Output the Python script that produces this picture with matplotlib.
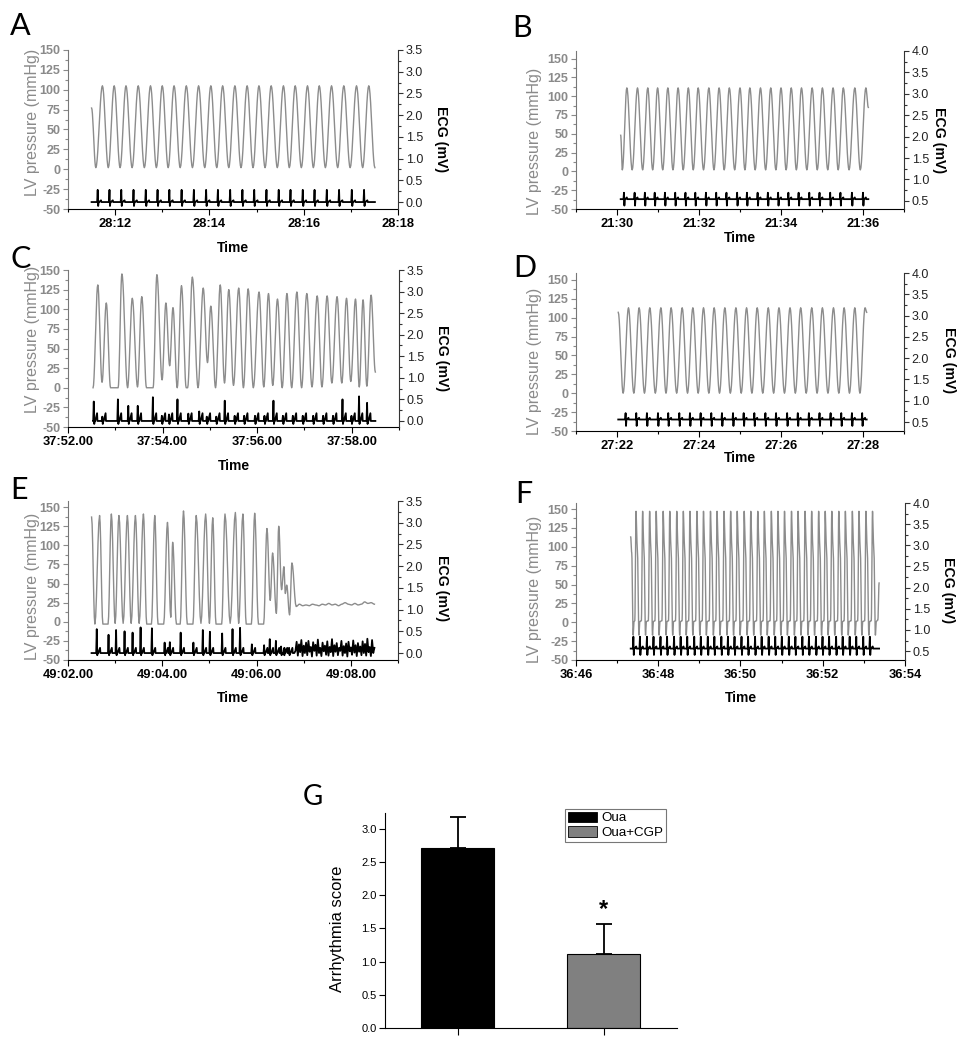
import numpy as np
import matplotlib
matplotlib.use('Agg')
import matplotlib.pyplot as plt
from matplotlib.patches import Patch
from matplotlib.ticker import AutoMinorLocator, MultipleLocator

plt.rcParams['font.family'] = ['Liberation Sans', 'DejaVu Sans']

W, H = 962, 1050
PRESS_GREY = '#8c8c8c'
AXIS_GREY = '#8a8a8a'

# ---------------- data ----------------
# A: regular rhythm (seconds within 28:xx)
A_XTICKS = [12, 14, 16, 18]
A_XLABELS = ['28:12', '28:14', '28:16', '28:18']
A_BEATS = [11.73, 11.98, 12.23, 12.49, 12.75, 13.00, 13.25, 13.51, 13.77, 14.03,
           14.28, 14.54, 14.80, 15.05, 15.31, 15.57, 15.82, 16.08, 16.33, 16.59,
           16.85, 17.12, 17.38]
A_LEAD = [(11.50, 77), (11.59, 2)]
A_TAIL = [(17.51, 2)]
A_PEAK, A_TROUGH = 105, 2

# B: regular rhythm (21:xx)
B_XTICKS = [30, 32, 34, 36]
B_XLABELS = ['21:30', '21:32', '21:34', '21:36']
B_BEATS = [30.24, 30.50, 30.75, 30.99, 31.24, 31.49, 31.74, 31.98, 32.24, 32.49,
           32.74, 33.00, 33.24, 33.50, 33.75, 34.00, 34.25, 34.50, 34.76, 35.01,
           35.27, 35.52, 35.80, 36.07]
B_LEAD = [(30.09, 48), (30.13, 2)]
B_TAIL = [(36.13, 85)]
B_PEAK, B_TROUGH = 111, 2

# C: irregular beats (37:5x)
C_XTICKS = [52, 54, 56, 58]
C_XLABELS = ['37:52.00', '37:54.00', '37:56.00', '37:58.00']
C_PRESS_T = [52.53, 52.63, 52.72, 52.81, 52.90, 53.06, 53.14, 53.26, 53.36, 53.47,
             53.56, 53.66, 53.80, 53.88, 53.99, 54.07, 54.15, 54.22, 54.31, 54.40,
             54.50, 54.53, 54.63, 54.75, 54.86, 54.95, 55.02, 55.12, 55.22, 55.31,
             55.40, 55.50, 55.61, 55.71, 55.81, 55.92, 56.04, 56.14, 56.24, 56.33,
             56.43, 56.53, 56.63, 56.73, 56.84, 56.94, 57.05, 57.16, 57.27, 57.37,
             57.48, 57.58, 57.69, 57.79, 57.89, 57.98, 58.08, 58.16, 58.24, 58.32,
             58.41, 58.50]
C_PRESS_V = [0, 131, 7, 108, 0, 0, 145, 0, 114, 1,
             116, 0, 0, 144, 10, 108, 28, 102, 0, 130,
             0, 0, 141, 0, 127, 32, 104, 0, 131, 6,
             125, 3, 127, 0, 126, 0, 122, 1, 120, 3,
             113, 0, 120, 0, 122, 0, 120, 1, 117, 1,
             117, 6, 116, 6, 114, 8, 113, 1, 112, 2,
             118, 20]
C_BEATS = [52.63, 52.81, 53.14, 53.36, 53.56, 53.88, 54.07, 54.22, 54.40, 54.63,
           54.86, 55.02, 55.22, 55.40, 55.61, 55.81, 56.04, 56.24, 56.43, 56.63,
           56.84, 57.05, 57.27, 57.48, 57.69, 57.89, 58.08, 58.24, 58.41]
C_R_AMP = [0.45, 0.10, 0.50, 0.35, 0.35, 0.55, 0.12, 0.15, 0.50, 0.17,
           0.22, 0.10, 0.10, 0.47, 0.12, 0.12, 0.12, 0.12, 0.47, 0.12,
           0.12, 0.12, 0.12, 0.12, 0.12, 0.50, 0.12, 0.57, 0.42]

# D: regular rhythm (27:xx)
D_XTICKS = [22, 24, 26, 28]
D_XLABELS = ['27:22', '27:24', '27:26', '27:28']
D_BEATS = [22.28, 22.54, 22.80, 23.07, 23.32, 23.59, 23.85, 24.11, 24.37, 24.63,
           24.90, 25.16, 25.42, 25.69, 25.95, 26.22, 26.48, 26.75, 27.01, 27.28,
           27.54, 27.80, 28.05]
D_LEAD = [(22.03, 107), (22.15, 0)]
D_TAIL = [(28.09, 107)]
D_PEAK, D_TROUGH = 113, 0

# E: arrhythmia ending in fibrillation (49:0x)
E_XTICKS = [2, 4, 6, 8]
E_XLABELS = ['49:02.00', '49:04.00', '49:06.00', '49:08.00']
E_PRESS_T = [2.50, 2.57, 2.67, 2.74, 2.85, 2.92, 3.00, 3.08, 3.17, 3.26,
             3.34, 3.43, 3.51, 3.60, 3.67, 3.77, 3.84, 3.91, 4.03, 4.11,
             4.18, 4.22, 4.30, 4.38, 4.45, 4.53, 4.65, 4.72, 4.82, 4.92,
             5.00, 5.07, 5.14, 5.26, 5.33, 5.44, 5.55, 5.62, 5.71, 5.78,
             5.89, 5.96, 6.04, 6.15, 6.22, 6.29, 6.34, 6.42, 6.47, 6.53,
             6.58, 6.61, 6.64, 6.70, 6.75, 6.84]
E_PRESS_V = [137, -3, 139, -3, -3, 141, -2, 139, -2, 139,
             -2, 139, -2, 141, -3, -3, 139, -3, -3, 130,
             6, 104, -3, -3, 145, -3, -3, 139, -2, 141,
             -2, 136, -3, -3, 141, -2, 143, -2, 141, -3,
             -3, 142, -3, -3, 122, 28, 90, 11, 125, 42,
             72, 37, 48, 9, 77, 20]
E_FLAT_V = [23, 21, 22, 21, 23, 22, 21, 23, 22, 24, 22, 23,
            21, 23, 25, 23, 22, 24, 22, 23, 26, 24, 25, 23]
E_FLAT_END = 8.50
E_BEATS = [2.67, 2.92, 3.08, 3.26, 3.43, 3.60, 3.84, 4.11, 4.22, 4.45,
           4.72, 4.92, 5.07, 5.33, 5.55, 5.71, 5.96, 6.22, 6.34, 6.47,
           6.58, 6.64, 6.75]
E_R_AMP = [0.55, 0.42, 0.53, 0.50, 0.47, 0.59, 0.57, 0.24, 0.25, 0.47,
           0.24, 0.53, 0.49, 0.45, 0.55, 0.58, 0.20, 0.18, 0.32, 0.28,
           0.15, 0.10, 0.12]
E_FIB_START = 6.80
E_FIB_V = [0.05, 0.26, -0.06, 0.20, 0.02, 0.30, -0.07, 0.17, 0.00, 0.24,
           -0.05, 0.28, 0.03, 0.14, -0.08, 0.25, 0.05, 0.19, -0.06, 0.31,
           0.00, 0.12, -0.07, 0.24, 0.04, 0.17, -0.04, 0.27, -0.06, 0.14,
           0.02, 0.32, -0.07, 0.18, 0.03, 0.23, -0.05, 0.12, 0.05, 0.28,
           -0.06, 0.16, 0.00, 0.22, -0.08, 0.26, 0.04, 0.13, -0.04, 0.29,
           0.01, 0.18, -0.07, 0.23, 0.03, 0.15, -0.05, 0.27, 0.00, 0.21,
           -0.06, 0.33, 0.02, 0.14, -0.07, 0.30, 0.00, 0.12]

# F: fast regular rhythm (36:xx)
F_XTICKS = [46, 48, 50, 52, 54]
F_XLABELS = ['36:46', '36:48', '36:50', '36:52', '36:54']
F_BEATS = [47.46, 47.62, 47.79, 47.95, 48.12, 48.28, 48.45, 48.61, 48.77, 48.94,
           49.10, 49.27, 49.43, 49.60, 49.76, 49.92, 50.09, 50.25, 50.42, 50.58,
           50.75, 50.91, 51.07, 51.24, 51.40, 51.57, 51.73, 51.90, 52.06, 52.22,
           52.39, 52.55, 52.72, 52.88, 53.05, 53.21]
F_SHAPE = [(-0.03, 2), (0.0, 147), (0.02, 108), (0.035, 92), (0.07, -17), (0.09, 1)]
F_LEAD = [(47.33, 113), (47.355, 92), (47.39, -17), (47.41, 1)]
F_TAIL = [(53.34, 3), (53.37, 52)]

# G: arrhythmia score
G_GROUPS = ['Oua', 'Oua+CGP']
G_MEANS = [2.71, 1.12]
G_ERR = [0.47, 0.45]
G_COLORS = ['#000000', '#808080']

P_TICKS = [-50, -25, 0, 25, 50, 75, 100, 125, 150]
ECG_TICKS_LO = [0.0, 0.5, 1.0, 1.5, 2.0, 2.5, 3.0, 3.5]
ECG_TICKS_HI = [0.5, 1.0, 1.5, 2.0, 2.5, 3.0, 3.5, 4.0]


# ---------------- helpers ----------------
def eased(keys_t, keys_v, n=10):
    """Smooth curve through read extrema (half-cosine between neighbours)."""
    xs, ys = [keys_t[0]], [keys_v[0]]
    s = np.linspace(0, 1, n + 1)[1:]
    w = (1 - np.cos(np.pi * s)) / 2
    for i in range(len(keys_t) - 1):
        xs.extend(keys_t[i] + (keys_t[i + 1] - keys_t[i]) * s)
        ys.extend(keys_v[i] + (keys_v[i + 1] - keys_v[i]) * w)
    return np.array(xs), np.array(ys)


def sine_keys(lead, beats, peak, trough, tail):
    keys = list(lead)
    for i, b in enumerate(beats):
        keys.append((b, peak))
        if i + 1 < len(beats):
            keys.append(((b + beats[i + 1]) / 2, trough))
    keys += tail
    t, v = zip(*keys)
    return list(t), list(v)


def shape_keys(lead, beats, shape, tail):
    keys = list(lead) + [(b + dt, v) for b in beats for dt, v in shape] + list(tail)
    t, v = zip(*keys)
    return list(t), list(v)


def ecg_keys(beats, amps, lag, base, s_amp, t_amp, t0, t1):
    pts = [(t0, base)]
    for b, a in zip(beats, amps):
        r = b - lag
        for dt, dv in [(-0.012, 0), (0, a), (0.01, -s_amp), (0.02, 0),
                       (0.03, 0), (0.07, t_amp), (0.078, 0)]:
            if t0 < r + dt < t1:
                pts.append((r + dt, base + dv))
    pts.append((t1, base))
    pts.sort()
    t, v = zip(*pts)
    return list(t), list(v)


# ---------------- build traces ----------------
traces = {}
t, v = sine_keys(A_LEAD, A_BEATS, A_PEAK, A_TROUGH, A_TAIL)
traces['A'] = (eased(t, v), ecg_keys(A_BEATS, [0.28] * len(A_BEATS), 0.10, 0.0, 0.09, 0.04, t[0], t[-1]))
t, v = sine_keys(B_LEAD, B_BEATS, B_PEAK, B_TROUGH, B_TAIL)
traces['B'] = (eased(t, v), ecg_keys(B_BEATS, [0.15] * len(B_BEATS), 0.07, 0.54, 0.15, 0.04, t[0], t[-1]))
traces['C'] = (eased(C_PRESS_T, C_PRESS_V),
               ecg_keys(C_BEATS, C_R_AMP, 0.085, 0.0, 0.07, 0.18, C_PRESS_T[0], C_PRESS_T[-1]))
t, v = sine_keys(D_LEAD, D_BEATS, D_PEAK, D_TROUGH, D_TAIL)
traces['D'] = (eased(t, v), ecg_keys(D_BEATS, [0.15] * len(D_BEATS), 0.07, 0.56, 0.15, 0.04, t[0], t[-1]))

e_t = E_PRESS_T + list(np.linspace(E_PRESS_T[-1], E_FLAT_END, len(E_FLAT_V) + 1)[1:])
e_v = E_PRESS_V + E_FLAT_V
et, ev = ecg_keys(E_BEATS, E_R_AMP, 0.06, 0.0, 0.05, 0.12, E_PRESS_T[0], E_FIB_START)
et += list(np.linspace(E_FIB_START, E_FLAT_END, len(E_FIB_V) + 1)[1:])
ev += E_FIB_V
traces['E'] = (eased(e_t, e_v, n=6), (et, ev))

t, v = shape_keys(F_LEAD, F_BEATS, F_SHAPE, F_TAIL)
traces['F'] = (eased(t, v, n=6), ecg_keys(F_BEATS, [0.28] * len(F_BEATS), 0.065, 0.56, 0.15, 0.05, t[0], t[-1]))

# ---------------- layout (figure pixels) ----------------
panels = [
    dict(key='A', box=(68, 50, 398, 209), letter=(10, 35), xlim=(11, 18), xt=A_XTICKS, xl=A_XLABELS,
         pylim=(-50, 150), eylim=(-0.16, 3.5), et=ECG_TICKS_LO, ll=(-0.085, 0.547), rl=(1.11, 0.44), tl=-0.20),
    dict(key='B', box=(576, 51, 904, 209), letter=(512, 37), xlim=(29, 37), xt=B_XTICKS, xl=B_XLABELS,
         pylim=(-50, 160), eylim=(0.31, 4.0), et=ECG_TICKS_HI, ll=(-0.104, 0.43), rl=(1.085, 0.437), tl=-0.139),
    dict(key='C', box=(68, 270, 399, 427), letter=(10, 268), xlim=(52, 59), xt=C_XTICKS, xl=C_XLABELS,
         pylim=(-50, 150), eylim=(-0.14, 3.5), et=ECG_TICKS_LO, ll=(-0.085, 0.56), rl=(1.109, 0.44), tl=-0.204),
    dict(key='D', box=(576, 273, 904, 431), letter=(513, 277), xlim=(21, 29), xt=D_XTICKS, xl=D_XLABELS,
         pylim=(-50, 159), eylim=(0.29, 4.0), et=ECG_TICKS_HI, ll=(-0.104, 0.443), rl=(1.115, 0.45), tl=-0.127),
    dict(key='E', box=(68, 501, 398, 660), letter=(10, 499), xlim=(2, 9), xt=E_XTICKS, xl=E_XLABELS,
         pylim=(-50, 158), eylim=(-0.16, 3.5), et=ECG_TICKS_LO, ll=(-0.085, 0.46), rl=(1.112, 0.45), tl=-0.195),
    dict(key='F', box=(576, 503, 905, 660), letter=(515, 503), xlim=(46, 54), xt=F_XTICKS, xl=F_XLABELS,
         pylim=(-50, 158), eylim=(0.29, 4.0), et=ECG_TICKS_HI, ll=(-0.104, 0.45), rl=(1.109, 0.446), tl=-0.197),
]


def rect(box):
    x0, y0, x1, y1 = box
    return [x0 / W, 1 - y1 / H, (x1 - x0) / W, (y1 - y0) / H]


fig = plt.figure(figsize=(W / 100, H / 100), dpi=100)


def letter(xy, txt, size=22):
    fig.text(xy[0] / W, 1 - xy[1] / H, txt, fontsize=size, family=['Lato', 'DejaVu Sans'],
             va='baseline', ha='left')


for p in panels:
    ax = fig.add_axes(rect(p['box']))
    ax2 = ax.twinx()
    (px, py), (ex, ey) = traces[p['key']]
    ax.plot(px, py, color=PRESS_GREY, lw=1.0)
    ax2.plot(ex, ey, color='black', lw=1.3)

    ax.set_xlim(*p['xlim'])
    ax.set_ylim(*p['pylim'])
    ax2.set_ylim(*p['eylim'])

    ax.set_xticks(p['xt'], labels=p['xl'], fontsize=9.3, fontweight='bold')
    ax.xaxis.set_minor_locator(MultipleLocator(1))
    ax.set_yticks(P_TICKS, labels=[str(v) for v in P_TICKS], fontsize=9,
                  fontweight='bold', color=AXIS_GREY)
    ax.yaxis.set_minor_locator(AutoMinorLocator(2))
    ax2.set_yticks(p['et'], labels=[f'{v:.1f}' for v in p['et']], fontsize=9, color='#222222')
    ax2.yaxis.set_minor_locator(AutoMinorLocator(2))

    ax.tick_params(axis='x', which='major', length=4, width=0.8, pad=2.5)
    ax.tick_params(axis='x', which='minor', length=2.5, width=0.8)
    ax.tick_params(axis='y', which='major', length=3.5, width=0.8, colors=AXIS_GREY, pad=2)
    ax.tick_params(axis='y', which='minor', length=2, width=0.8, colors=AXIS_GREY)
    ax2.tick_params(axis='y', which='major', length=3.5, width=0.8, colors='#333333', pad=2)
    ax2.tick_params(axis='y', which='minor', length=2, width=0.8, colors='#333333')
    for lab in ax2.get_yticklabels():
        lab.set_color('#222222')

    for a in (ax, ax2):
        a.spines['top'].set_visible(False)
        for s in a.spines.values():
            s.set_linewidth(0.8)
    ax.spines['left'].set_color('#777777')
    ax.spines['right'].set_visible(False)
    ax2.spines['left'].set_visible(False)
    ax2.spines['bottom'].set_visible(False)
    ax2.spines['right'].set_color('#333333')

    ax.set_ylabel('LV pressure (mmHg)', fontsize=11.5, color=AXIS_GREY)
    ax.yaxis.set_label_coords(*p['ll'])
    ax2.set_ylabel('ECG (mV)', fontsize=10.2, fontweight='bold', rotation=270, va='bottom')
    ax2.yaxis.set_label_coords(*p['rl'])
    ax.set_xlabel('Time', fontsize=10, fontweight='bold', va='top')
    ax.xaxis.set_label_coords(0.5, p['tl'])

    letter(p['letter'], p['key'])

# ---------------- panel G ----------------
gx = fig.add_axes(rect((385, 813, 677, 1028)))
pos = [1, 2]
gx.bar(pos, G_MEANS, width=0.5, color=G_COLORS, edgecolor='black', linewidth=0.8, zorder=2)
gx.errorbar(pos, G_MEANS, yerr=[[0, 0], G_ERR], fmt='none', ecolor='black',
            elinewidth=1.3, capsize=6, capthick=1.3, zorder=3)
gx.text(2, G_MEANS[1] + G_ERR[1] + 0.04, '*', ha='center', va='bottom', fontsize=17, fontweight='bold')
gx.set_xlim(0.5, 2.5)
gx.set_ylim(0, 3.24)
gx.set_xticks(pos, labels=['', ''])
yt = [0.0, 0.5, 1.0, 1.5, 2.0, 2.5, 3.0]
gx.set_yticks(yt, labels=[f'{v:.1f}' for v in yt], fontsize=8)
gx.tick_params(axis='both', length=4, width=0.8, pad=2)
gx.tick_params(axis='x', length=5)
for s in ('top', 'right'):
    gx.spines[s].set_visible(False)
for s in ('left', 'bottom'):
    gx.spines[s].set_linewidth(0.8)
gx.set_ylabel('Arrhythmia score', fontsize=12)
gx.yaxis.set_label_coords(-0.137, 0.46)
handles = [Patch(facecolor=c, edgecolor='black', linewidth=0.6) for c in G_COLORS]
leg = gx.legend(handles, G_GROUPS, loc='upper left', bbox_to_anchor=(565 / W, 1 - 809 / H),
                bbox_transform=fig.transFigure, borderaxespad=0, fontsize=9.6, frameon=True,
                fancybox=False, handlelength=2.2, handleheight=0.8, labelspacing=0.15,
                borderpad=0.2, handletextpad=0.3)
leg.get_frame().set_edgecolor('#555555')
leg.get_frame().set_linewidth(0.8)
letter((303, 805), 'G', size=20)

fig.savefig('out.png', dpi=100)
